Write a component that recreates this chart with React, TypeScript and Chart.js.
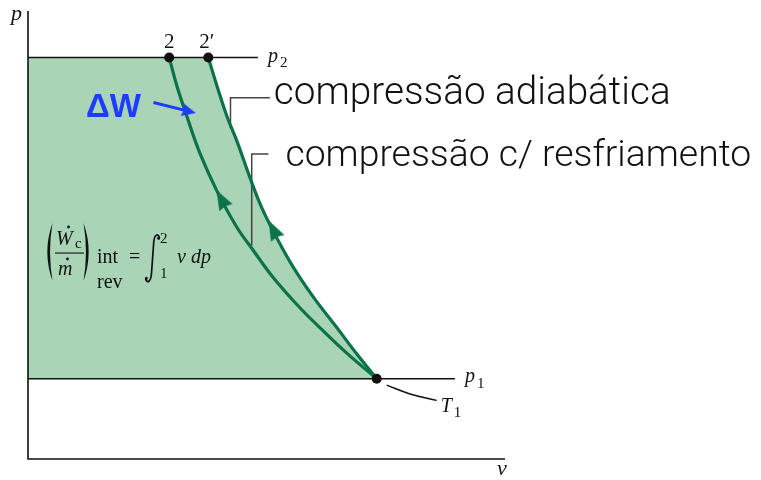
import { useEffect, useRef } from 'react';
import { Chart, registerables } from 'chart.js';

Chart.register(...registerables);

// Axis ranges (specific volume v, pressure p)
const V_MAX = 10;
const P_MAX = 5.58;

// Isobars
const P1 = 1.0;
const P2 = 5.0;
const P1_LINE_END = 8.95;
const P2_LINE_END = 4.82;

// Adiabatic compression 1 -> 2'
const adiabaticV = [7.31, 6.89, 6.47, 5.98, 5.56, 5.21, 4.9, 4.65, 4.38, 4.17, 3.96, 3.78];
const adiabaticP = [1.0, 1.31, 1.64, 2.02, 2.39, 2.76, 3.13, 3.51, 3.96, 4.27, 4.65, 5.0];

// Compression with cooling 1 -> 2
const cooledV = [7.31, 6.7, 6.25, 5.69, 5.14, 4.72, 4.375, 3.96, 3.61, 3.33, 3.12, 2.96];
const cooledP = [1.0, 1.31, 1.56, 1.89, 2.26, 2.6, 2.89, 3.34, 3.8, 4.27, 4.65, 5.0];

// Direction arrows on the two paths (position and heading in degrees)
const flowArrowV = [4.05, 5.14];
const flowArrowP = [3.24, 2.86];
const flowArrowAngle = [-118.6, -116.6];

// Leader lines of the two path captions
const adiabaticLeaderV = [4.245, 4.245, 5.07];
const adiabaticLeaderP = [4.12, 4.5, 4.5];
const cooledLeaderV = [4.69, 4.69, 5.04];
const cooledLeaderP = [2.66, 3.8, 3.8];

// Isotherm hint T1 near state 1
const t1LeaderV = [7.52, 8.01, 8.57];
const t1LeaderP = [0.92, 0.81, 0.73];

// ΔW pointer
const workArrowV = [2.63, 3.375];
const workArrowP = [4.44, 4.33];
const workArrowAngle = 13.5;

const captionAdiabatic = 'compressão adiabática';
const captionCooled = 'compressão c/ resfriamento';

const GREEN = '#0b724a';
const FILL = '#a9d4b6';
const BLUE = '#1e3cff';
const INK = '#111111';

const serif = '"Liberation Serif", "Times New Roman", serif';
const sans = '"Liberation Sans", Arial, sans-serif';
const light = 'Roboto, "Open Sans", "Liberation Sans", sans-serif';

const pts = (vs: number[], ps: number[]) => vs.map((v, i) => ({ x: v, y: ps[i] }));

function arrowHead(len: number, wid: number, color: string, notch: number) {
  const c = document.createElement('canvas');
  c.width = len;
  c.height = wid;
  const g = c.getContext('2d')!;
  g.fillStyle = color;
  g.beginPath();
  g.moveTo(len, wid / 2);
  g.lineTo(0, 0);
  g.lineTo(len * notch, wid / 2);
  g.lineTo(0, wid);
  g.closePath();
  g.fill();
  return c;
}

function text(ctx: CanvasRenderingContext2D, s: string, x: number, y: number, font: string, color = INK, align: CanvasTextAlign = 'left') {
  ctx.font = font;
  ctx.fillStyle = color;
  ctx.textAlign = align;
  ctx.textBaseline = 'alphabetic';
  ctx.fillText(s, x, y);
}

function fitText(ctx: CanvasRenderingContext2D, s: string, x: number, y: number, weight: number, family: string, width: number, color = INK) {
  ctx.font = `${weight} 40px ${family}`;
  const w = ctx.measureText(s).width;
  const size = (40 * width) / w;
  text(ctx, s, x, y, `${weight} ${size.toFixed(2)}px ${family}`, color);
}

function paren(ctx: CanvasRenderingContext2D, x0: number, top: number, bottom: number, w: number, left: boolean) {
  const mid = (top + bottom) / 2;
  const s = left ? 1 : -1;
  const xe = left ? x0 + w : x0 - w;
  ctx.beginPath();
  ctx.moveTo(xe, top);
  ctx.quadraticCurveTo(x0 - s * w * 0.15, mid, xe, bottom);
  ctx.quadraticCurveTo(x0 + s * w * 0.45, mid, xe, top);
  ctx.fill();
}

function drawFormula(ctx: CanvasRenderingContext2D) {
  ctx.fillStyle = INK;
  ctx.strokeStyle = INK;
  paren(ctx, 43.5, 223, 281, 9, true);
  paren(ctx, 92.5, 223, 281, 9, false);
  text(ctx, 'W', 56, 245, `italic 20px ${serif}`);
  text(ctx, 'c', 75, 248, `15px ${serif}`);
  ctx.beginPath();
  ctx.arc(68.5, 227, 1.4, 0, Math.PI * 2);
  ctx.fill();
  ctx.fillRect(55, 252.5, 29, 1.1);
  text(ctx, 'm', 58, 275, `italic 20px ${serif}`);
  ctx.beginPath();
  ctx.arc(67.5, 259, 1.4, 0, Math.PI * 2);
  ctx.fill();
  text(ctx, 'int', 97, 263, `20px ${serif}`);
  text(ctx, 'rev', 97, 288, `20px ${serif}`);
  text(ctx, '=', 129, 263, `20px ${serif}`);
  // integral sign
  ctx.lineWidth = 1.7;
  ctx.beginPath();
  ctx.moveTo(159.5, 238);
  ctx.bezierCurveTo(158, 232.5, 154, 234.5, 153.6, 244);
  ctx.lineTo(151.6, 272);
  ctx.bezierCurveTo(151, 282.5, 147, 284, 145.5, 278.5);
  ctx.stroke();
  ctx.beginPath();
  ctx.arc(158.6, 238.2, 1.5, 0, Math.PI * 2);
  ctx.arc(146.4, 278.3, 1.5, 0, Math.PI * 2);
  ctx.fill();
  text(ctx, '2', 160, 243, `15px ${serif}`);
  text(ctx, '1', 160, 278, `15px ${serif}`);
  text(ctx, 'v', 177, 263, `italic 20px ${serif}`);
  text(ctx, 'dp', 191, 263, `italic 20px ${serif}`);
}

const annotate = {
  id: 'annotate',
  afterDatasetsDraw(chart: Chart) {
    const { ctx, chartArea: a } = chart;
    const xs = chart.scales.x;
    const ys = chart.scales.y;
    ctx.save();

    // axes
    ctx.strokeStyle = INK;
    ctx.lineWidth = 1.6;
    ctx.beginPath();
    ctx.moveTo(a.left, a.top);
    ctx.lineTo(a.left, a.bottom);
    ctx.lineTo(a.right, a.bottom);
    ctx.stroke();
    text(ctx, 'p', 11, 20, `italic 22px ${serif}`);
    text(ctx, 'v', a.right - 8, a.bottom + 16, `italic 22px ${serif}`);

    // state labels
    const y2 = ys.getPixelForValue(P2);
    const y1 = ys.getPixelForValue(P1);
    text(ctx, '2', xs.getPixelForValue(cooledV[cooledV.length - 1]), y2 - 9.5, `21px ${serif}`, INK, 'center');
    text(ctx, '2\u2032', xs.getPixelForValue(adiabaticV[adiabaticV.length - 1]) - 9, y2 - 9.5, `21px ${serif}`);

    const xp2 = xs.getPixelForValue(P2_LINE_END) + 10;
    text(ctx, 'p', xp2, y2 + 4.5, `italic 20px ${serif}`);
    text(ctx, '2', xp2 + 12, y2 + 9.5, `15px ${serif}`);
    const xp1 = xs.getPixelForValue(P1_LINE_END) + 10;
    text(ctx, 'p', xp1, y1 + 3.5, `italic 20px ${serif}`);
    text(ctx, '1', xp1 + 12, y1 + 9, `15px ${serif}`);

    const tx = xs.getPixelForValue(t1LeaderV[2]) + 4;
    const ty = ys.getPixelForValue(t1LeaderP[2]) + 12;
    text(ctx, 'T', tx, ty, `italic 20px ${serif}`);
    text(ctx, '1', tx + 13, ty + 5, `15px ${serif}`);

    // captions
    fitText(ctx, captionAdiabatic, xs.getPixelForValue(adiabaticLeaderV[2]) + 4, ys.getPixelForValue(adiabaticLeaderP[2]) + 6, 300, light, 397);
    fitText(ctx, captionCooled, xs.getPixelForValue(cooledLeaderV[2]) + 17, ys.getPixelForValue(cooledLeaderP[2]) + 12, 300, light, 466);

    // ΔW
    fitText(ctx, '\u0394W', 86, 117, 700, sans, 55, BLUE);

    drawFormula(ctx);
    ctx.restore();
  },
};

export default function App() {
  const ref = useRef<HTMLCanvasElement>(null);

  useEffect(() => {
    const canvas = ref.current;
    if (!canvas) return;
    const greenHead = arrowHead(20, 15, GREEN, 0.08);
    const blueHead = arrowHead(14, 13, BLUE, 0.12);

    const line = (data: { x: number; y: number }[], color: string, width: number, order: number, tension = 0) => ({
      data,
      showLine: true,
      borderColor: color,
      borderWidth: width,
      pointRadius: 0,
      tension,
      fill: false,
      order,
      clip: false as const,
    });

    const chart = new Chart(canvas, {
      type: 'scatter',
      data: {
        datasets: [
          {
            // shaded work area bounded by the adiabatic path
            data: [{ x: 0, y: P1 }, ...pts(adiabaticV, adiabaticP), { x: 0, y: P2 }],
            showLine: true,
            borderWidth: 0,
            borderColor: 'rgba(0,0,0,0)',
            backgroundColor: FILL,
            pointRadius: 0,
            tension: 0,
            fill: 'shape',
            order: 20,
          },
          line([{ x: 0, y: P1 }, { x: P1_LINE_END, y: P1 }], INK, 1.6, 10),
          line([{ x: 0, y: P2 }, { x: P2_LINE_END, y: P2 }], INK, 1.6, 10),
          line(pts(adiabaticLeaderV, adiabaticLeaderP), '#444444', 1.5, 9),
          line(pts(cooledLeaderV, cooledLeaderP), '#444444', 1.5, 9),
          line(pts(t1LeaderV, t1LeaderP), INK, 1.5, 9, 0.4),
          line(pts(adiabaticV, adiabaticP), GREEN, 3.2, 5, 0.4),
          line(pts(cooledV, cooledP), GREEN, 3.2, 5, 0.4),
          line(pts(workArrowV, workArrowP), BLUE, 3, 4),
          {
            data: [{ x: workArrowV[1], y: workArrowP[1] }],
            pointStyle: blueHead,
            pointRadius: 8,
            pointRotation: workArrowAngle,
            order: 2,
            clip: false,
          },
          {
            data: pts(flowArrowV, flowArrowP),
            pointStyle: greenHead,
            pointRadius: 10,
            pointRotation: flowArrowAngle,
            order: 2,
            clip: false,
          },
          {
            // states 1, 2 and 2'
            data: [
              { x: cooledV[0], y: cooledP[0] },
              { x: cooledV[cooledV.length - 1], y: cooledP[cooledP.length - 1] },
              { x: adiabaticV[adiabaticV.length - 1], y: adiabaticP[adiabaticP.length - 1] },
            ],
            pointRadius: 5,
            pointBackgroundColor: INK,
            pointBorderWidth: 0,
            order: 1,
            clip: false,
          },
        ] as any,
      },
      options: {
        responsive: false,
        animation: false,
        events: [],
        layout: { padding: { left: 28, top: 10, right: 256, bottom: 21 } },
        scales: {
          x: { type: 'linear', min: 0, max: V_MAX, display: false },
          y: { type: 'linear', min: 0, max: P_MAX, display: false },
        },
        plugins: { legend: { display: false }, tooltip: { enabled: false } },
      },
      plugins: [annotate],
    });
    return () => chart.destroy();
  }, []);

  return (
    <div style={{ position: 'fixed', left: 0, top: 0, width: 761, height: 480, background: '#ffffff' }}>
      <canvas ref={ref} width={761} height={480} />
    </div>
  );
}
